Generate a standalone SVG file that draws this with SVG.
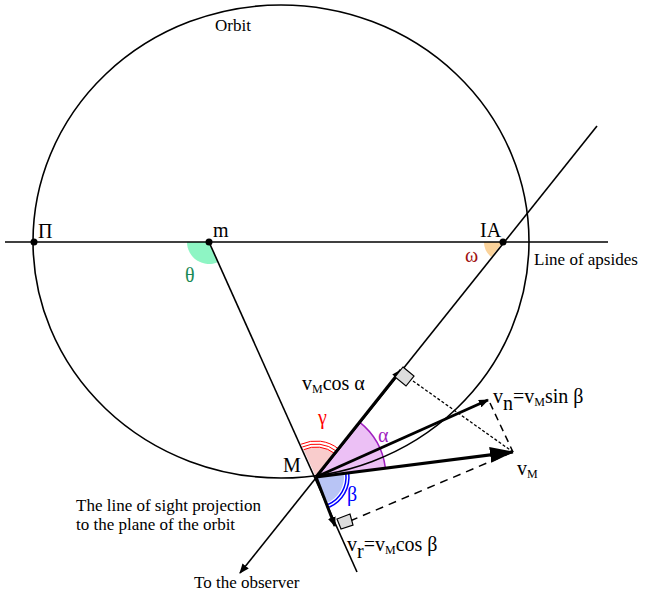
<svg xmlns="http://www.w3.org/2000/svg" width="654" height="595" viewBox="0 0 654 595">
<style>
text{font-family:"Liberation Serif","Times New Roman","DejaVu Serif",serif;font-size:20px;fill:#000}
.s{font-size:17px}
.sub{font-size:12px}
.ln{stroke:#000;stroke-width:1.6;fill:none}
.v{stroke:#000;stroke-width:3;fill:none}
</style>
<defs>
<marker id="ah" markerWidth="10" markerHeight="8" refX="9" refY="4" orient="auto" markerUnits="userSpaceOnUse"><path d="M0,0 L10,4 L0,8 z"/></marker>
<marker id="big" markerWidth="24" markerHeight="16" refX="23" refY="8" orient="auto" markerUnits="userSpaceOnUse"><path d="M0,0 L24,8 L0,16 z"/></marker>
</defs>
<g id="angles">
<path d="M316,477 L303.6,449.7 A30,30 0 0 1 334.7,453.5 Z" fill="#f9cccc"/>
<path d="M316,477 L359.6,422.2 A70,70 0 0 1 385.4,468.2 Z" fill="#ecc0f5"/>
<path d="M303.6,449.7 A30,30 0 0 1 334.7,453.5" stroke="red" fill="none"/>
<path d="M302.3,447 A33,33 0 0 1 336.5,451.2" stroke="red" fill="none"/>
<path d="M301.1,444.2 A36,36 0 0 1 338.4,448.8" stroke="red" fill="none"/>
<path d="M359.6,422.2 A70,70 0 0 1 385.4,468.2" stroke="#a020c0" stroke-width="1.5" fill="none"/>
<path d="M316,477 L343.8,473.5 A28,28 0 0 1 327.1,502.7 Z" fill="#b8c4f5"/>
<path d="M345.8,473.2 A30,30 0 0 1 327.9,504.5" stroke="blue" stroke-width="1.5" fill="none"/>
<path d="M348.7,472.9 A33,33 0 0 1 329.1,507.3" stroke="blue" stroke-width="1.5" fill="none"/>
<path d="M209,242 L187,242 A22,22 0 0 0 218.1,262 Z" fill="#8ef5c4"/>
<path d="M503,242 L484,242 A19,19 0 0 0 491.2,256.9 Z" fill="#fbd39b"/>
</g>
<g id="orbit"><ellipse cx="281" cy="241.5" rx="248" ry="236.5" class="ln" stroke-width="2.2"/></g>
<g id="connectors">
<line x1="5" y1="242" x2="608" y2="242" class="ln"/>
<line x1="209" y1="242" x2="357" y2="572" class="ln"/>
<line x1="597" y1="126" x2="240" y2="573" class="ln" marker-end="url(#ah)"/>
<line x1="316" y1="477" x2="401" y2="370" class="v" marker-end="url(#ah)"/>
<line x1="316" y1="477" x2="488" y2="400" class="v" marker-end="url(#ah)"/>
<line x1="316" y1="477" x2="513" y2="452" class="v" marker-end="url(#big)"/>
<line x1="316" y1="477" x2="335" y2="526" class="v" marker-end="url(#ah)"/>
<path d="M413,381 L513,452" stroke="#000" stroke-width="1.3" stroke-dasharray="3,2" fill="none"/>
<path d="M490,403 L513,452" stroke="#000" stroke-width="1.5" stroke-dasharray="7,5" fill="none"/>
<path d="M350,521 L513,452" stroke="#000" stroke-width="1.5" stroke-dasharray="8,6" fill="none"/>
<path d="M403,367 L414,376 L406,386 L395,377 Z" fill="#ddd" stroke="#000" stroke-width="1.2"/>
<path d="M337,519 L350,514 L353,525 L341,529 Z" fill="#ddd" stroke="#000" stroke-width="1.2"/>
</g>
<g id="points">
<circle cx="34" cy="242" r="3.5"/><circle cx="209" cy="242" r="3.5"/><circle cx="503" cy="242" r="3.5"/>
</g>
<g id="labels">
<text x="215" y="31" class="s">Orbit</text>
<text x="38" y="238">Π</text>
<text x="213" y="237">m</text>
<text x="480" y="237">IA</text>
<text x="185" y="282" style="fill:#1a8a55">θ</text>
<text x="465" y="262" style="fill:#a01010">ω</text>
<text x="534" y="265" class="s">Line of apsides</text>
<text x="302" y="390">v<tspan class="sub" dy="3">M</tspan><tspan dy="-3">cos α</tspan></text>
<text x="493" y="403">v<tspan dy="7">n</tspan><tspan dy="-7">=v</tspan><tspan class="sub" dy="3">M</tspan><tspan dy="-3">sin β</tspan></text>
<text x="283" y="472">M</text>
<text x="318" y="424" style="fill:red">γ</text>
<text x="378" y="442" style="fill:#a020c0">α</text>
<text x="347" y="501" style="fill:blue">β</text>
<text x="517" y="475">v<tspan class="sub" dy="3">M</tspan></text>
<text x="347" y="551">v<tspan dy="7">r</tspan><tspan dy="-7">=v</tspan><tspan class="sub" dy="3">M</tspan><tspan dy="-3">cos β</tspan></text>
<text x="76" y="511" class="s">The line of sight projection</text>
<text x="76" y="530" class="s">to the plane of the orbit</text>
<text x="194" y="588" class="s">To the observer</text>
</g>
</svg>
